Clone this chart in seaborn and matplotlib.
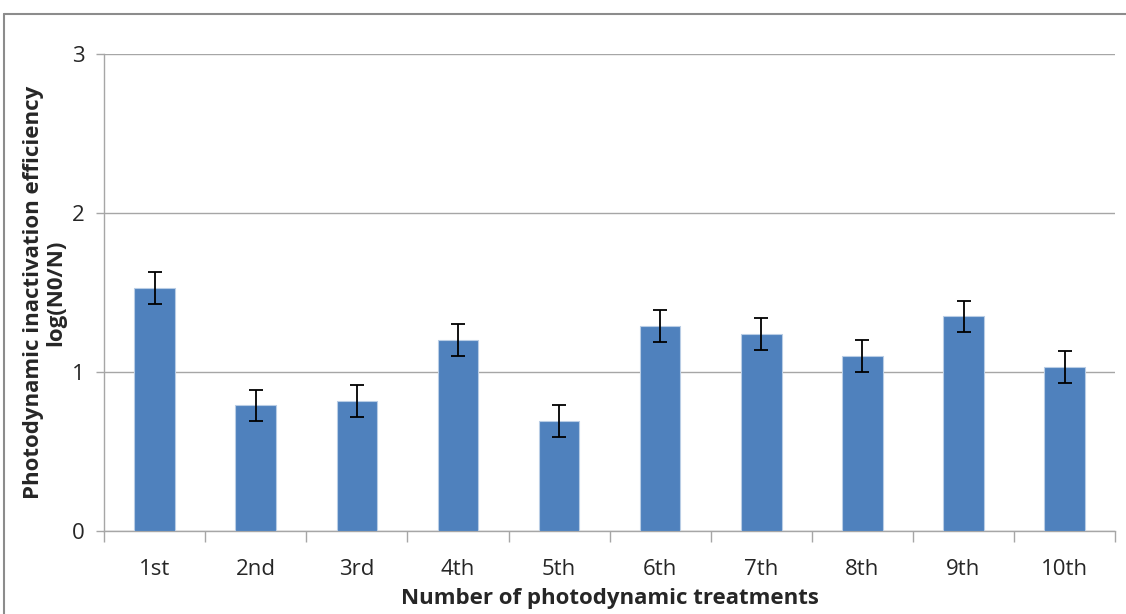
import numpy as np
import pandas as pd
import seaborn as sns
import matplotlib
matplotlib.use("Agg")
from matplotlib import pyplot as plt
from matplotlib.lines import Line2D

# === Data ===
treatments = ["1st", "2nd", "3rd", "4th", "5th", "6th", "7th", "8th", "9th", "10th"]
efficiency = [1.53, 0.79, 0.82, 1.20, 0.69, 1.29, 1.24, 1.10, 1.35, 1.03]
errors = [0.10, 0.10, 0.10, 0.10, 0.10, 0.10, 0.10, 0.10, 0.10, 0.10]
y_ticks = [0, 1, 2, 3]

df = pd.DataFrame({"treatment": treatments, "efficiency": efficiency, "err": errors})

sns.set_style("white")
plt.rcParams["font.family"] = ["Open Sans", "DejaVu Sans"]

fig = plt.figure(figsize=(11.26, 6.14), dpi=100)
ax = fig.add_axes([0.0924, 0.135, 0.898, 0.777])

sns.barplot(data=df, x="treatment", y="efficiency", color="#4F81BD",
            width=0.40, edgecolor="#B9CDE5", linewidth=0.8, errorbar=None,
            saturation=1, ax=ax, zorder=3)
ax.errorbar(np.arange(len(treatments)), df["efficiency"], yerr=df["err"],
            fmt="none", ecolor="black", elinewidth=1.3, capsize=5,
            capthick=1.3, zorder=4)

ax.set_ylim(0, 3)
ax.set_xlim(-0.5, len(treatments) - 0.5)
ax.set_yticks(y_ticks)
ax.yaxis.grid(True, color="#A6A6A6", linewidth=1.0)
ax.set_axisbelow(True)

for side in ["top", "right"]:
    ax.spines[side].set_visible(False)
for side in ["left", "bottom"]:
    ax.spines[side].set_color("#A6A6A6")
    ax.spines[side].set_linewidth(1.0)

# tick marks between categories on x, labels centred under bars
ax.set_xticks(np.arange(-0.5, len(treatments)), minor=True)
ax.tick_params(axis="x", which="major", length=0, pad=20, labelsize=16)
ax.tick_params(axis="x", which="minor", length=8, color="#A6A6A6", width=1.0,
               direction="out", bottom=True)
ax.tick_params(axis="y", length=6, color="#A6A6A6", width=1.0, direction="out",
               left=True, labelsize=16, pad=8)

ax.set_xlabel("Number of photodynamic treatments", fontsize=16, fontweight="bold",
              labelpad=6)
ax.set_ylabel("Photodynamic inactivation efficiency\nlog(N0/N)", fontsize=16,
              fontweight="bold", labelpad=4, linespacing=1.1)

# outer chart border (top and left visible)
fig.add_artist(Line2D([0.0036, 1.0], [0.977, 0.977], color="#8C8C8C", linewidth=1.5,
                      transform=fig.transFigure))
fig.add_artist(Line2D([0.0036, 0.0036], [0.0, 0.977], color="#8C8C8C", linewidth=1.5,
                      transform=fig.transFigure))

fig.savefig("out.png", dpi=100)
